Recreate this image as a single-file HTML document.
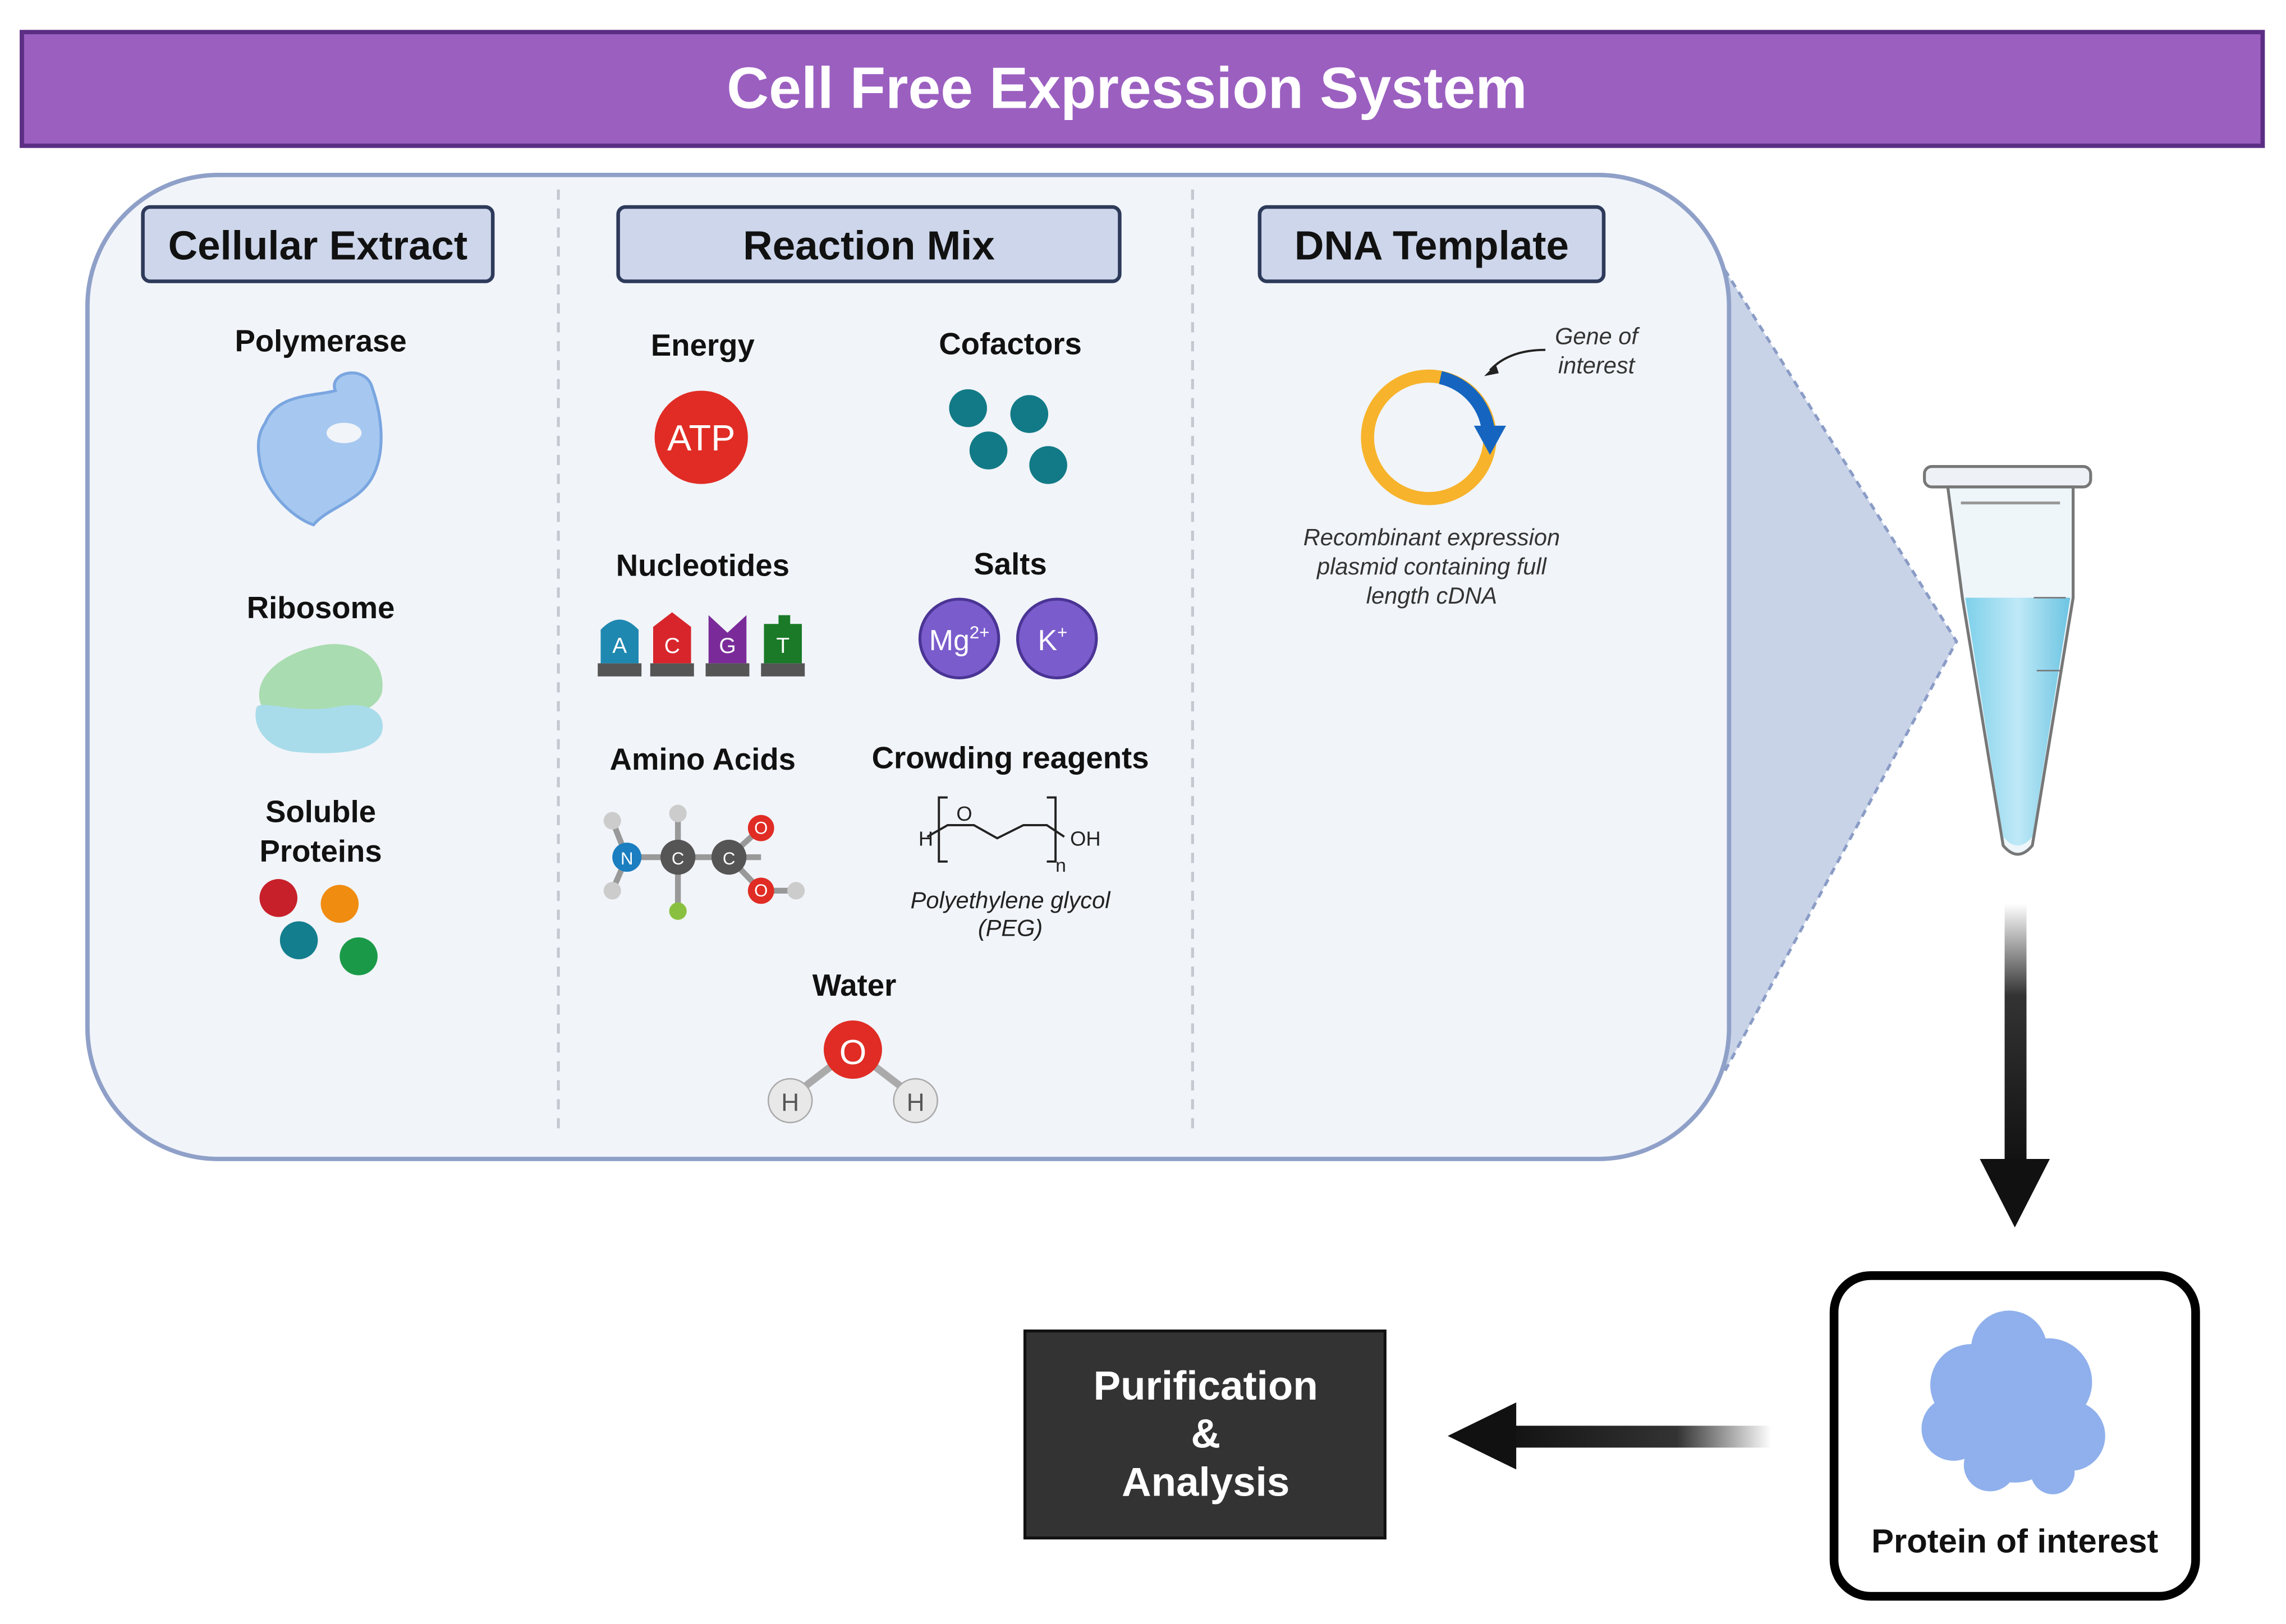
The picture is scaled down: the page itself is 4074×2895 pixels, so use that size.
<!DOCTYPE html>
<html><head><meta charset="utf-8"><style>
html,body{margin:0;padding:0;background:#fff}
svg{display:block}
text{font-family:"Liberation Sans",sans-serif}
</style></head><body>
<svg width="4074" height="2895" viewBox="0 0 1568 1114" preserveAspectRatio="none" xmlns="http://www.w3.org/2000/svg">
<defs>
<linearGradient id="gd" x1="0" y1="0" x2="0" y2="1"><stop offset="0" stop-color="#fff"/><stop offset="0.35" stop-color="#333"/><stop offset="1" stop-color="#111"/></linearGradient>
<linearGradient id="gl" x1="1" y1="0" x2="0" y2="0"><stop offset="0" stop-color="#fff"/><stop offset="0.35" stop-color="#333"/><stop offset="1" stop-color="#111"/></linearGradient>
<linearGradient id="tube" x1="0" y1="0" x2="1" y2="0"><stop offset="0" stop-color="#7ed0ea"/><stop offset="0.5" stop-color="#bfe9f7"/><stop offset="1" stop-color="#6cc4e2"/></linearGradient>
</defs>
<!-- title -->
<rect x="15" y="22" width="1537" height="78" fill="#9b5fc0" stroke="#5b2e84" stroke-width="3"/>
<text x="773" y="74" text-anchor="middle" font-size="40" font-weight="bold" fill="#fff">Cell Free Expression System</text>
<!-- projection -->
<polygon points="1183,185 1342,440 1183,735" fill="#c9d3e8" stroke="#8a9cc6" stroke-width="2" stroke-dasharray="5,4"/>
<!-- panel -->
<rect x="60" y="120" width="1126" height="675" rx="90" fill="#f1f4f9" stroke="#8fa0c8" stroke-width="3"/>
<line x1="383" y1="130" x2="383" y2="780" stroke="#c4c8d0" stroke-width="2" stroke-dasharray="7,6"/>
<line x1="818" y1="130" x2="818" y2="780" stroke="#c4c8d0" stroke-width="2" stroke-dasharray="7,6"/>
<!-- headers -->
<g font-size="28" font-weight="bold" fill="#111" text-anchor="middle">
<rect x="98" y="142" width="240" height="51" rx="5" fill="#cdd6ea" stroke="#2e3a5a" stroke-width="2.5"/>
<text x="218" y="178">Cellular Extract</text>
<rect x="424" y="142" width="344" height="51" rx="5" fill="#cdd6ea" stroke="#2e3a5a" stroke-width="2.5"/>
<text x="596" y="178">Reaction Mix</text>
<rect x="864" y="142" width="236" height="51" rx="5" fill="#cdd6ea" stroke="#2e3a5a" stroke-width="2.5"/>
<text x="982" y="178">DNA Template</text>
</g>
<!-- labels -->
<g font-size="21" font-weight="bold" fill="#111" text-anchor="middle">
<text x="220" y="241">Polymerase</text>
<text x="220" y="424">Ribosome</text>
<text x="220" y="564">Soluble</text>
<text x="220" y="591">Proteins</text>
<text x="482" y="244">Energy</text>
<text x="693" y="243">Cofactors</text>
<text x="482" y="395">Nucleotides</text>
<text x="693" y="394">Salts</text>
<text x="482" y="528">Amino Acids</text>
<text x="693" y="527">Crowding reagents</text>
<text x="586" y="683">Water</text>
</g>
<!-- polymerase -->
<path d="M182,290 C190,270 215,272 230,268 C225,255 250,250 255,265 C262,285 265,310 255,328 C245,345 225,348 215,360 C200,355 180,335 178,315 C176,303 178,296 182,290Z" fill="#a6c8f0" stroke="#7aa6e0" stroke-width="2"/>
<ellipse cx="236" cy="297" rx="12" ry="7" fill="#f1f4f9"/>
<!-- ribosome -->
<path d="M178,480 C175,460 200,445 225,442 C250,440 265,455 262,475 C258,490 230,495 205,492 C188,492 180,490 178,480Z" fill="#a9dcb0"/>
<path d="M176,485 C180,480 205,490 230,485 C255,480 265,490 262,502 C258,516 230,518 205,516 C185,515 172,500 176,485Z" fill="#a9dcea"/>
<!-- soluble proteins -->
<circle cx="191" cy="616" r="13" fill="#c8202a"/><circle cx="233" cy="620" r="13" fill="#f08c10"/>
<circle cx="205" cy="645" r="13" fill="#137e8e"/><circle cx="246" cy="656" r="13" fill="#1a9a48"/>
<!-- ATP -->
<circle cx="481" cy="300" r="32" fill="#e02c24"/>
<text x="481" y="309" text-anchor="middle" font-size="25" fill="#fff">ATP</text>
<!-- cofactors -->
<g fill="#117a86"><circle cx="664" cy="280" r="13"/><circle cx="706" cy="284" r="13"/><circle cx="678" cy="309" r="13"/><circle cx="719" cy="319" r="13"/></g>
<!-- nucleotides -->
<g font-size="15" fill="#fff" text-anchor="middle">
<rect x="410" y="455" width="30" height="9" fill="#555"/><path d="M412,455 V432 Q425,418 438,432 V455Z" fill="#1e88b0"/><text x="425" y="448">A</text>
<rect x="446" y="455" width="30" height="9" fill="#555"/><path d="M448,455 V430 L461,420 L474,430 V455Z" fill="#d8252c"/><text x="461" y="448">C</text>
<rect x="484" y="455" width="30" height="9" fill="#555"/><path d="M486,455 V422 L499,434 L512,422 V455Z" fill="#7a2b99"/><text x="499" y="448">G</text>
<rect x="522" y="455" width="30" height="9" fill="#555"/><path d="M524,455 V428 H534 V422 H542 V428 H550 V455Z" fill="#1a7a28"/><text x="537" y="448">T</text>
</g>
<!-- salts -->
<circle cx="658" cy="438" r="27" fill="#7a5ccc" stroke="#4a3494" stroke-width="2"/>
<text x="658" y="446" text-anchor="middle" font-size="20" fill="#fff">Mg<tspan font-size="12" dy="-8">2+</tspan></text>
<circle cx="725" cy="438" r="27" fill="#7a5ccc" stroke="#4a3494" stroke-width="2"/>
<text x="722" y="446" text-anchor="middle" font-size="20" fill="#fff">K<tspan font-size="12" dy="-8">+</tspan></text>
<!-- amino acid -->
<g stroke="#999" stroke-width="4"><line x1="430" y1="588" x2="522" y2="588"/><line x1="500" y1="588" x2="522" y2="568"/><line x1="500" y1="588" x2="522" y2="611"/><line x1="465" y1="588" x2="465" y2="625"/><line x1="465" y1="588" x2="465" y2="558"/><line x1="430" y1="588" x2="420" y2="563"/><line x1="430" y1="588" x2="420" y2="611"/><line x1="522" y1="611" x2="546" y2="611"/></g>
<g font-size="12" text-anchor="middle" fill="#fff">
<circle cx="430" cy="588" r="10" fill="#1a7ec0"/><text x="430" y="593">N</text>
<circle cx="465" cy="588" r="12" fill="#555"/><text x="465" y="593">C</text>
<circle cx="500" cy="588" r="12" fill="#555"/><text x="500" y="593">C</text>
<circle cx="522" cy="568" r="9" fill="#e02c24"/><text x="522" y="572">O</text>
<circle cx="522" cy="611" r="9" fill="#e02c24"/><text x="522" y="615">O</text>
<circle cx="465" cy="625" r="6" fill="#8ac040"/>
<circle cx="465" cy="558" r="6" fill="#ccc"/><circle cx="420" cy="563" r="6" fill="#ccc"/><circle cx="420" cy="611" r="6" fill="#ccc"/><circle cx="546" cy="611" r="6" fill="#ccc"/>
</g>
<!-- PEG -->
<g stroke="#222" stroke-width="1.5" fill="none"><path d="M650,547 h-6 v44 h6"/><path d="M718,547 h6 v44 h-6"/><path d="M636,574 L650,566 L668,566 L684,575 L702,566 L718,566 L730,574"/></g>
<text x="630" y="580" font-size="14" fill="#222">H</text><text x="656" y="563" font-size="14" fill="#222">O</text>
<text x="734" y="580" font-size="14" fill="#222">OH</text><text x="724" y="598" font-size="13" fill="#222">n</text>
<text x="693" y="623" text-anchor="middle" font-size="16" font-style="italic" fill="#222">Polyethylene glycol</text>
<text x="693" y="642" text-anchor="middle" font-size="16" font-style="italic" fill="#222">(PEG)</text>
<!-- water -->
<g stroke="#aaa" stroke-width="5"><line x1="585" y1="720" x2="542" y2="753"/><line x1="585" y1="720" x2="628" y2="753"/></g>
<circle cx="585" cy="720" r="20" fill="#e02c24"/><text x="585" y="730" text-anchor="middle" font-size="24" fill="#fff">O</text>
<circle cx="542" cy="755" r="15" fill="#e8e8e8" stroke="#aaa"/><text x="542" y="762" text-anchor="middle" font-size="17" fill="#555">H</text>
<circle cx="628" cy="755" r="15" fill="#e8e8e8" stroke="#aaa"/><text x="628" y="762" text-anchor="middle" font-size="17" fill="#555">H</text>
<!-- plasmid -->
<circle cx="980" cy="300" r="42" fill="none" stroke="#f7b32b" stroke-width="9"/>
<path d="M988,259 A42,42 0 0,1 1021,298" fill="none" stroke="#1565c0" stroke-width="9"/>
<polygon points="1011,292 1033,292 1022,312" fill="#1565c0"/>
<path d="M1060,240 Q1035,240 1022,254" fill="none" stroke="#222" stroke-width="1.5"/><polygon points="1018,258 1026,250 1028,256" fill="#222"/>
<g font-size="16" font-style="italic" fill="#333" text-anchor="middle">
<text x="1095" y="236">Gene of</text><text x="1095" y="256">interest</text>
<text x="982" y="374">Recombinant expression</text><text x="982" y="394">plasmid containing full</text><text x="982" y="414">length cDNA</text>
</g>
<!-- tube -->
<rect x="1320" y="320" width="114" height="14" rx="5" fill="#eef2f6" stroke="#777" stroke-width="2"/>
<path d="M1336,334 H1422 V410 L1394,580 Q1384,592 1374,580 L1346,410 Z" fill="#eef6fa" stroke="#777" stroke-width="2"/>
<path d="M1348,410 H1420 L1394,574 Q1384,586 1374,574 Z" fill="url(#tube)"/>
<line x1="1345" y1="345" x2="1413" y2="345" stroke="#999" stroke-width="2"/>
<line x1="1395" y1="410" x2="1417" y2="410" stroke="#777"/><line x1="1397" y1="460" x2="1414" y2="460" stroke="#777"/>
<!-- down arrow -->
<rect x="1375" y="620" width="15" height="180" fill="url(#gd)"/>
<polygon points="1358,795 1406,795 1382,842" fill="#111"/>
<!-- protein box -->
<rect x="1258" y="875" width="248" height="220" rx="25" fill="#fff" stroke="#000" stroke-width="6"/>
<g fill="#8fb0ec">
<circle cx="1378" cy="925" r="26"/><circle cx="1352" cy="950" r="28"/><circle cx="1405" cy="948" r="30"/><circle cx="1340" cy="980" r="22"/><circle cx="1382" cy="985" r="32"/><circle cx="1420" cy="985" r="24"/><circle cx="1365" cy="1005" r="18"/><circle cx="1408" cy="1010" r="15"/>
</g>
<text x="1382" y="1065" text-anchor="middle" font-size="23" font-weight="bold" fill="#111">Protein of interest</text>
<!-- left arrow -->
<rect x="1030" y="978" width="185" height="15" fill="url(#gl)"/>
<polygon points="1040,962 1040,1008 993,985" fill="#111"/>
<!-- purification -->
<rect x="703" y="913" width="247" height="142" fill="#333" stroke="#111" stroke-width="2"/>
<g font-size="28" font-weight="bold" fill="#fff" text-anchor="middle">
<text x="827" y="960">Purification</text><text x="827" y="993">&amp;</text><text x="827" y="1026">Analysis</text>
</g>
</svg>
</body></html>
